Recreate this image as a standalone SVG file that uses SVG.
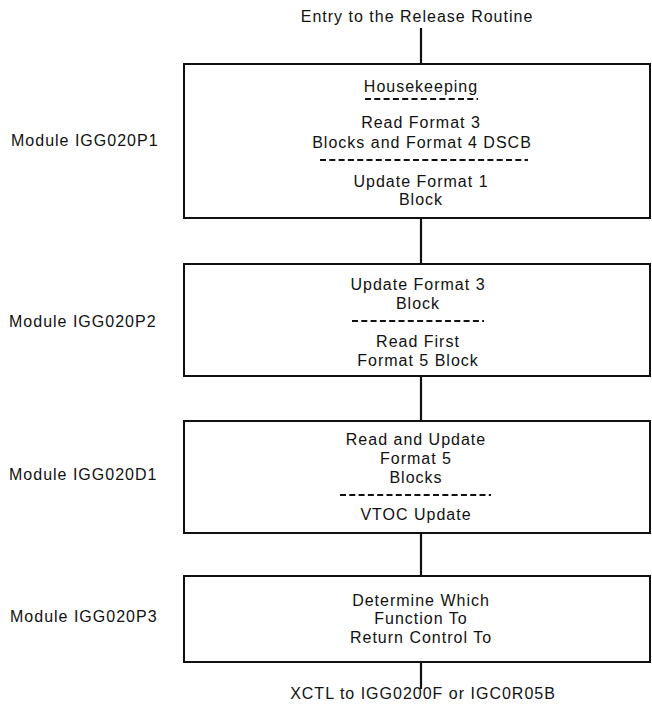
<svg xmlns="http://www.w3.org/2000/svg" width="652" height="713" viewBox="0 0 652 713">
<style>
text{font-family:"Liberation Sans",Arial,sans-serif;font-size:16px;letter-spacing:1px;fill:#111}
.c{text-anchor:middle}
.box{fill:#fff;stroke:#111;stroke-width:2}
.conn{stroke:#111;stroke-width:2.2;fill:none}
.dash{stroke:#111;stroke-width:1.8;stroke-dasharray:6 3.3;fill:none}
</style>
<rect width="652" height="713" fill="#fff"/>
<g id="connectors">
<line class="conn" x1="421" y1="28" x2="421" y2="64"/>
<line class="conn" x1="421" y1="218" x2="421" y2="264"/>
<line class="conn" x1="421" y1="376" x2="421" y2="421"/>
<line class="conn" x1="421" y1="533" x2="421" y2="576"/>
<line class="conn" x1="421" y1="662" x2="421" y2="689"/>
</g>
<g id="entry"><text class="c" x="417" y="22">Entry to the Release Routine</text></g>
<g id="p1">
<rect class="box" x="184" y="64" width="466" height="154"/>
<text class="c" x="421" y="92">Housekeeping</text>
<line class="dash" x1="365" y1="99" x2="478" y2="99"/>
<text class="c" x="421" y="128">Read Format 3</text>
<text class="c" x="422" y="148">Blocks and Format 4 DSCB</text>
<line class="dash" x1="320" y1="160" x2="528" y2="160"/>
<text class="c" x="421" y="187">Update Format 1</text>
<text class="c" x="421" y="205">Block</text>
</g>
<g id="p2">
<rect class="box" x="184" y="264" width="466" height="112"/>
<text class="c" x="418" y="290">Update Format 3</text>
<text class="c" x="418" y="309">Block</text>
<line class="dash" x1="352" y1="321" x2="484" y2="321"/>
<text class="c" x="418" y="347">Read First</text>
<text class="c" x="418" y="366">Format 5 Block</text>
</g>
<g id="d1">
<rect class="box" x="184" y="421" width="466" height="112"/>
<text class="c" x="416" y="445">Read and Update</text>
<text class="c" x="416" y="464">Format 5</text>
<text class="c" x="416" y="483">Blocks</text>
<line class="dash" x1="340" y1="495" x2="491" y2="495"/>
<text class="c" x="416" y="520">VTOC Update</text>
</g>
<g id="p3">
<rect class="box" x="184" y="576" width="466" height="86"/>
<text class="c" x="421" y="606">Determine Which</text>
<text class="c" x="421" y="624">Function To</text>
<text class="c" x="421" y="643">Return Control To</text>
</g>
<g id="exit"><text class="c" x="423" y="699">XCTL to IGG0200F or IGC0R05B</text></g>
<g id="labels">
<text x="11" y="146">Module IGG020P1</text>
<text x="9" y="327">Module IGG020P2</text>
<text x="9" y="480">Module IGG020D1</text>
<text x="10" y="622">Module IGG020P3</text>
</g>
</svg>
